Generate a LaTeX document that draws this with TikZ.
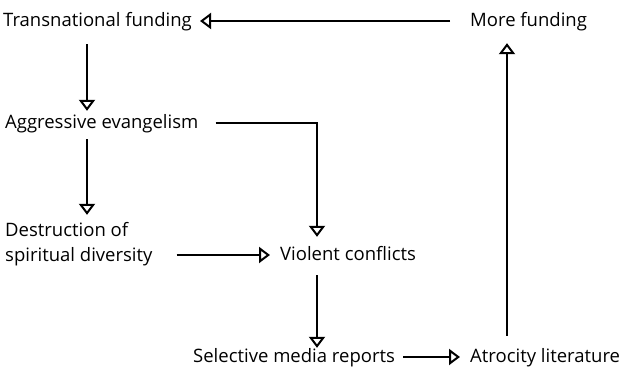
\documentclass[tikz,border=0pt]{standalone}
\usepackage{fontspec}
\setmainfont{Open Sans}
\usetikzlibrary{arrows.meta}
\tikzset{
	lbl/.style={anchor=base west,inner sep=0pt,text height=12pt,text depth=0pt,font=\fontsize{18.5}{25}\selectfont},
	flow/.style={line width=1.4pt,-{Triangle[open,length=11pt,width=16pt,line width=2pt]}}
}
\begin{document}
\begin{tikzpicture}[x=1pt,y=-1pt]
				\useasboundingbox (0,0) rectangle (622,371);
				% columns of the vertical arrows
				\coordinate (colA) at (87,0);
				\coordinate (colB) at (317,0);
				\coordinate (colC) at (507,0);
				\node[lbl] (fund) at (3,27) {Transnational funding};
				\node[lbl] (more) at (470,27) {More funding};
				\node[lbl] (aggr) at (5,129) {Aggressive evangelism};
				\node[lbl,align=left,text height=37pt] (destr) at (5,262) {Destruction of\\spiritual diversity};
				\node[lbl] (viol) at (280,261) {Violent conflicts};
				\node[lbl] (sel) at (193,363) {Selective media reports};
				\node[lbl] (atro) at (470,363) {Atrocity literature};
				\draw[flow,shorten <=17pt,shorten >=6pt] (colA |- fund.south) -- (colA |- aggr.north);
				\draw[flow,shorten <=10pt,shorten >=10pt] (colA |- aggr.south) -- (colA |- destr.north);
				\draw[flow,shorten <=17pt,shorten >=12pt] (aggr.east) -| (colB |- viol.north);
				\draw[flow,shorten <=24pt,shorten >=10pt] (destr.east |- viol.west) -- (viol.west);
				\draw[flow,shorten <=14pt,shorten >=3pt] (colB |- viol.south) -- (colB |- sel.north);
				\draw[flow,shorten <=8pt,shorten >=10pt] (sel.east) -- (atro.west);
				\draw[flow,shorten <=15pt,shorten >=16pt] (colC |- atro.north) -- (colC |- more.south);
				\draw[flow,shorten <=20pt,shorten >=8pt] (more.west) -- (fund.east);
\end{tikzpicture}
\end{document}
